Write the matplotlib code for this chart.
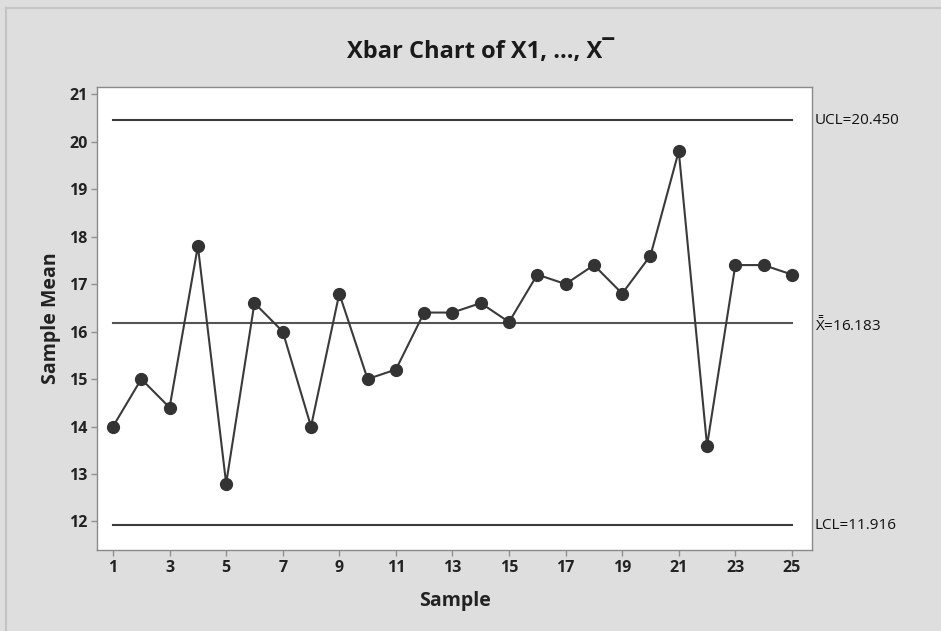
import matplotlib
matplotlib.use('Agg')
import matplotlib.pyplot as plt
from matplotlib.lines import Line2D
import numpy as np

# subgroup means for the Xbar chart
samples = np.arange(1, 26)
means = [14.0, 15.0, 14.4, 17.8, 12.8, 16.6, 16.0, 14.0, 16.8, 15.0,
         15.2, 16.4, 16.4, 16.6, 16.2, 17.2, 17.0, 17.4, 16.8, 17.6,
         19.8, 13.6, 17.4, 17.4, 17.2]
ucl = 20.450
center = 16.183
lcl = 11.916
xticks = list(range(1, 26, 2))
yticks = list(range(12, 22))

plt.rcParams['font.family'] = ['Open Sans', 'DejaVu Sans']
plt.rcParams['mathtext.fontset'] = 'custom'
plt.rcParams['mathtext.rm'] = 'Open Sans'
plt.rcParams['mathtext.it'] = 'Open Sans'
plt.rcParams['mathtext.bf'] = 'Open Sans:bold'

bg = '#dedede'
ink = '#3a3a3a'

fig = plt.figure(figsize=(9.41, 6.31), dpi=100, facecolor=bg)
# thin frame line along the top and left edge
fig.add_artist(Line2D([0.006, 1.0], [0.987, 0.987], transform=fig.transFigure,
                      color='#c4c4c4', lw=1.5))
fig.add_artist(Line2D([0.006, 0.006], [0.0, 0.987], transform=fig.transFigure,
                      color='#c4c4c4', lw=1.5))

ax = fig.add_axes([0.1031, 0.1284, 0.7598, 0.7337])
ax.set_facecolor('white')

# control limits and center line
ax.plot([samples[0], samples[-1]], [ucl, ucl], color=ink, lw=1.5)
ax.plot([samples[0], samples[-1]], [lcl, lcl], color=ink, lw=1.5)
ax.plot([samples[0], samples[-1]], [center, center], color='#555555', lw=1.5)

ax.plot(samples, means, color=ink, lw=1.5, marker='o', markersize=8.5,
        markerfacecolor='#333333', markeredgecolor='#333333')

ax.set_xlim(0.435, 25.71)
ax.set_ylim(11.40, 21.15)
ax.set_xticks(xticks)
ax.set_yticks(yticks)
ax.tick_params(direction='out', length=4, width=1, color='#909090',
               labelsize=11.5, labelcolor='#222222', pad=3)
for lab in ax.get_xticklabels() + ax.get_yticklabels():
    lab.set_fontweight('bold')
for sp in ax.spines.values():
    sp.set_color('#8a8a8a')
    sp.set_linewidth(1)

ax.set_xlabel('Sample', fontsize=14, fontweight='bold', color='#222222', labelpad=11)
ax.set_ylabel('Sample Mean', fontsize=14, fontweight='bold', color='#222222', labelpad=6)

# limit labels to the right of the plot area
trans = ax.get_yaxis_transform()
lab_kw = dict(transform=trans, ha='left', va='center', fontsize=11,
              color='#111111', clip_on=False)
ax.text(1.004, ucl, f'UCL={ucl:.3f}', **lab_kw)
ax.text(1.004, center - 0.05, r'$\bar{\bar{\mathrm{X}}}$' + f'={center:.3f}', **lab_kw)
ax.text(1.004, lcl, f'LCL={lcl:.3f}', **lab_kw)

fig.text(0.511, 0.918, 'Xbar Chart of X1, ..., X\u00af', ha='center', va='center',
         fontsize=17, fontweight='bold', color='#1a1a1a')

fig.savefig('out.png', dpi=100, facecolor=bg)
